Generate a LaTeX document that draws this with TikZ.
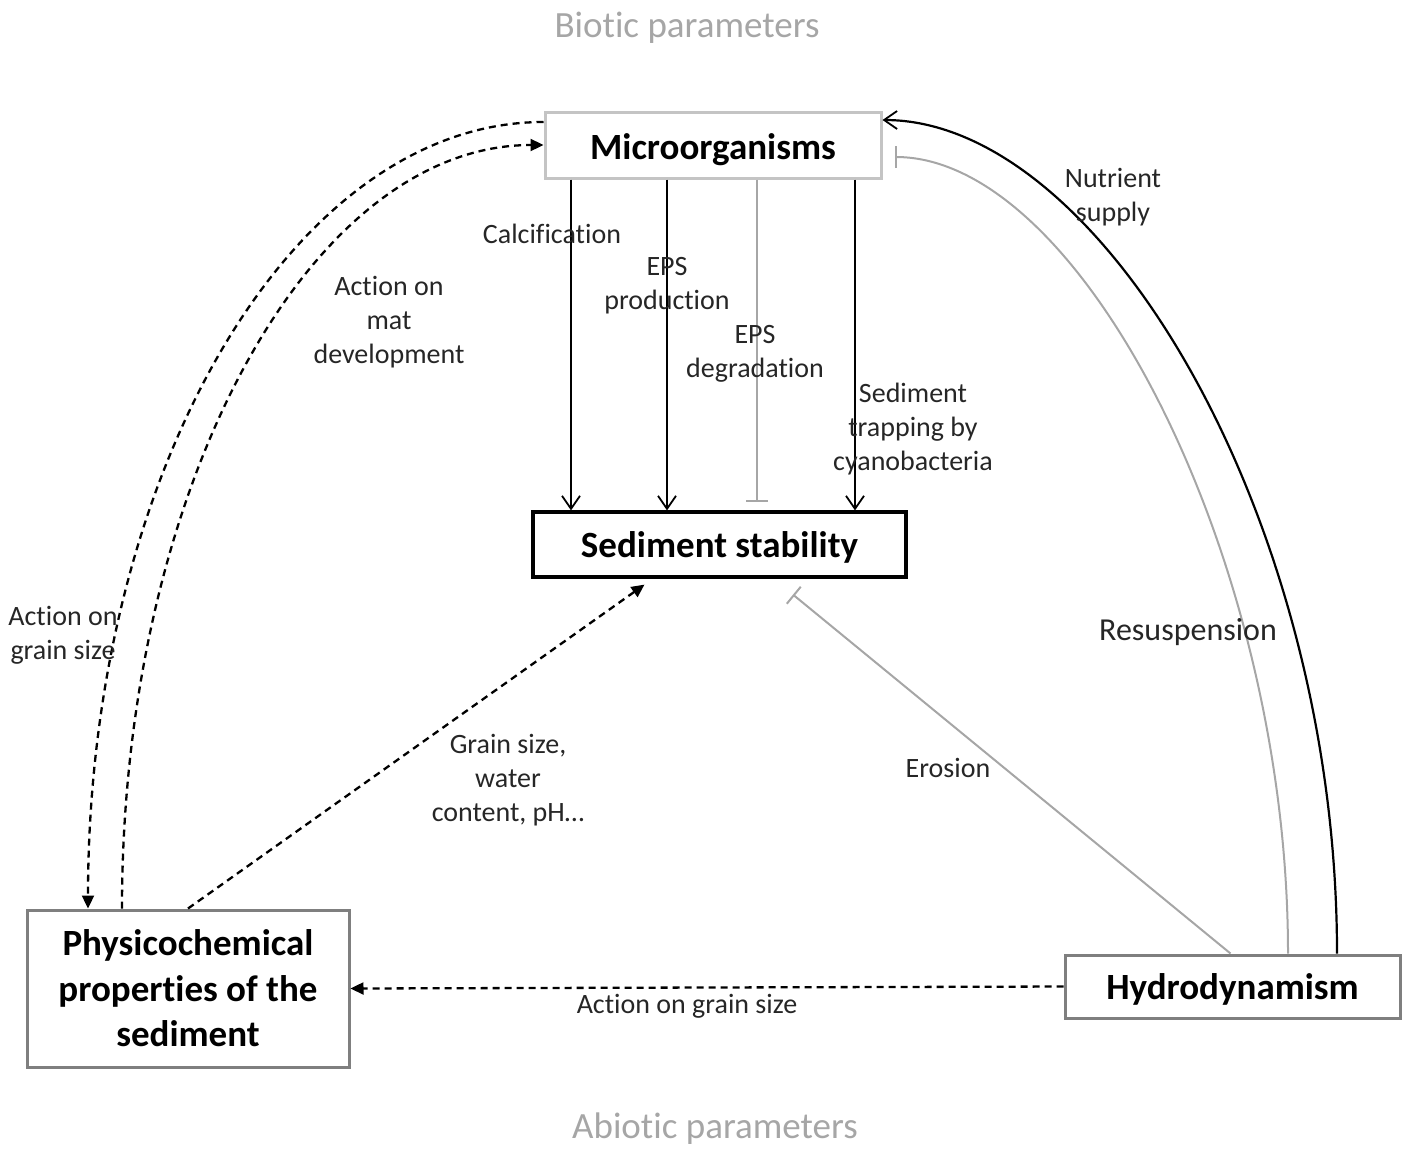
\documentclass[tikz,border=0pt]{standalone}
\usepackage{fontspec}
\setmainfont{Carlito}[Ligatures=NoCommon]
\usetikzlibrary{arrows.meta}
\definecolor{lgray}{HTML}{A6A6A6}
\definecolor{bgray}{HTML}{C4C4C4}
\definecolor{dgray}{HTML}{7F7F7F}
\begin{document}
\begin{tikzpicture}[x=1pt,y=-1pt,
  boxlbl/.style={font=\fontsize{37}{45.5}\selectfont\bfseries, align=center, inner sep=0pt, fill=white},
  lbl/.style={font=\fontsize{28}{34}\selectfont, align=center, inner sep=0pt, text=black!85},
  title/.style={font=\fontsize{37}{44}\selectfont, inner sep=0pt, text=lgray},
  solidarrow/.style={line width=2pt, -{Straight Barb[length=13pt,width=18pt,line width=1.8pt]}},
  inhib/.style={line width=2pt, lgray, -{Bar[width=22pt,line width=2pt]}},
  dasharrow/.style={line width=2.3pt, dash pattern=on 7pt off 5pt, -{Triangle[length=13pt,width=12pt]}},
]
\useasboundingbox (0,0) rectangle (1410,1149);

% boxes
\node[boxlbl, draw=bgray, line width=3pt, minimum width=336pt, minimum height=66pt, text height=28pt, text depth=0pt] (micro) at (713,145) {Microorganisms};
\node[boxlbl, draw=black, line width=3.2pt, minimum width=373pt, minimum height=65pt, text height=28pt, text depth=2pt] (sed) at (719.5,544.5) {Sediment stability};
\node[boxlbl, draw=dgray, line width=3pt, minimum width=322pt, minimum height=157pt] (phys) at (188,988.5) {Physicochemical\\properties of the\\sediment};
\node[boxlbl, draw=dgray, line width=3pt, minimum width=335pt, minimum height=63pt, text height=28pt, text depth=2pt] (hydro) at (1232.5,986.5) {Hydrodynamism};

% titles
\node[title] (biotic) at (687,28) {Biotic parameters};
\node[title] (abiotic) at (715,1129) {Abiotic parameters};

% vertical connectors
\coordinate (c1) at (571,0);
\coordinate (c2) at (667,0);
\coordinate (c3) at (757,0);
\coordinate (c4) at (855,0);
\coordinate (c3end) at (757,502);
\draw[solidarrow] (c1 |- micro.south) -- (c1 |- sed.north);
\draw[solidarrow] (c2 |- micro.south) -- (c2 |- sed.north);
\draw[inhib] (c3 |- micro.south) -- (c3end);
\draw[solidarrow] (c4 |- micro.south) -- (c4 |- sed.north);

% right curves
\draw[line width=2.2pt, -{Straight Barb[length=13pt,width=18pt,line width=1.8pt]}]
  ([xshift=104.5pt]hydro.north) .. controls +(0,-435) and +(219,0) .. ([yshift=25pt]micro.east);
\draw[line width=2pt, lgray, -{Bar[width=22pt,line width=2pt]}]
  ([xshift=55.5pt]hydro.north) .. controls +(0,-395) and +(187,0) .. ([xshift=12pt,yshift=-12pt]micro.east);
% erosion
\draw[inhib] ([xshift=-2pt]hydro.north) -- ([xshift=73.5pt,yshift=-16pt]sed.south);

% dashed connectors
\draw[dasharrow] (hydro.west) -- (phys.east);
\draw[dasharrow] (phys.north) -- ([xshift=-75pt,yshift=-6pt]sed.south);
\draw[dasharrow] ([yshift=23pt]micro.west) .. controls +(-252,0) and +(0,-435) .. ([xshift=-100pt]phys.north);
\draw[dasharrow] ([xshift=-66pt]phys.north) .. controls +(0,-422) and +(-234,0) .. (micro.west);

% labels
\node[lbl] (lcalc) at (552,234) {Calcification};
\node[lbl] (lepsp) at (667,286) {EPS\\production};
\node[lbl] (lepsd) at (755,354) {EPS\\degradation};
\node[lbl] (ltrap) at (913,429) {Sediment\\trapping by\\cyanobacteria};
\node[lbl] (lnut) at (1113,197) {Nutrient\\supply};
\node[lbl] (lmat) at (389,322) {Action on\\mat\\development};
\node[lbl] (lgrainl) at (63,635) {Action on\\grain size};
\node[lbl, font=\fontsize{32}{38}\selectfont] (lresus) at (1188,632) {Resuspension};
\node[lbl] (lero) at (948,768) {Erosion};
\node[lbl] (lwater) at (508,780) {Grain size,\\water\\content, pH\dots};
\node[lbl] (lgrainb) at (687,1006) {Action on grain size};
\end{tikzpicture}
\end{document}
